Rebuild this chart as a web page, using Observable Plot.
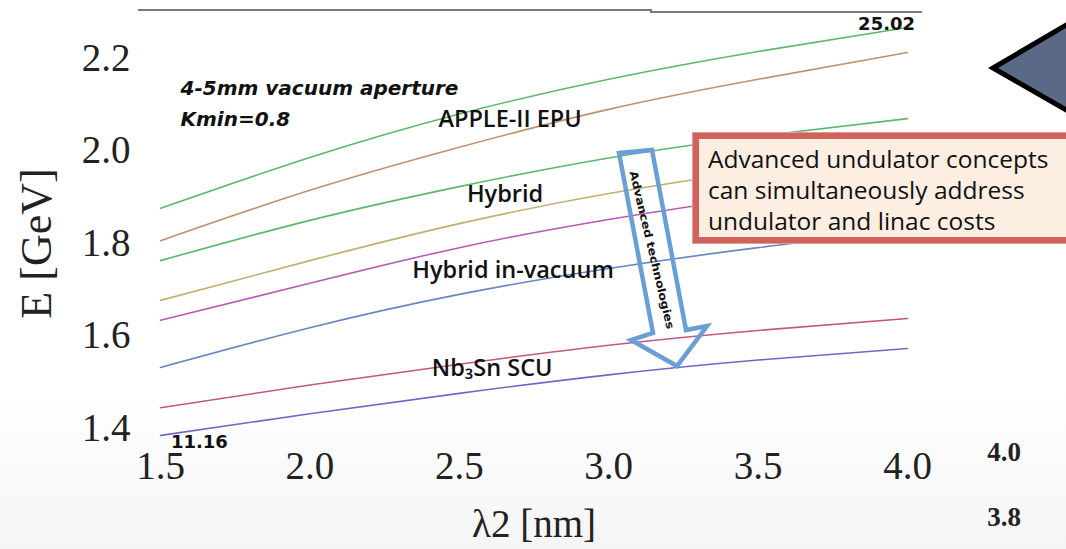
<!DOCTYPE html>
<html>
<head>
<meta charset="utf-8">
<script src="https://cdn.jsdelivr.net/npm/d3@7"></script>
<script src="https://cdn.jsdelivr.net/npm/@observablehq/plot@0.6"></script>
<style>
  html, body { margin: 0; padding: 0; background: #fff; }
  #stage {
    position: relative; width: 1066px; height: 549px; overflow: hidden;
    background: linear-gradient(to bottom, #ffffff 0px, #ffffff 390px, #f5f5f5 549px);
  }
  #stage > svg { position: absolute; left: 0; top: 0; }
  #note {
    position: absolute; left: 693px; top: 133px; width: 460px; height: 110px;
    box-sizing: border-box; border: 6px solid #d1625b; background: #fdeee2;
    box-shadow: 0 0 0 1px #e39a94;
    font-family: "Open Sans", sans-serif; font-size: 24.5px; line-height: 31px;
    color: #111; padding: 4px 0 0 9px; white-space: nowrap;
  }
</style>
</head>
<body>
<div id="stage"></div>
<script>
// Photon wavelength λ2 (nm) sampled for every curve
const lambda = [1.5, 2.0, 2.5, 3.0, 3.5, 4.0];

// Required electron energy E (GeV) for each undulator technology, two apertures each
const seriesNames = [
  "APPLE-II EPU, 5 mm", "APPLE-II EPU, 4 mm",
  "Hybrid, 5 mm", "Hybrid, 4 mm",
  "Hybrid in-vacuum, 5 mm", "Hybrid in-vacuum, 4 mm",
  "Nb3Sn SCU, 5 mm", "Nb3Sn SCU, 4 mm"
];
const appleEpu5 = [1.876, 1.986, 2.080, 2.155, 2.215, 2.267];
const appleEpu4 = [1.806, 1.915, 2.008, 2.090, 2.155, 2.213];
const hybrid5   = [1.763, 1.850, 1.923, 1.985, 2.032, 2.070];
const hybrid4   = [1.677, 1.763, 1.843, 1.908, 1.958, 1.997];
const hybridIv5 = [1.634, 1.714, 1.791, 1.852, 1.900, 1.936];
const hybridIv4 = [1.532, 1.618, 1.690, 1.746, 1.791, 1.828];
const scu5      = [1.445, 1.494, 1.539, 1.580, 1.612, 1.638];
const scu4      = [1.385, 1.432, 1.476, 1.516, 1.548, 1.573];

// Axis ticks
const xTicks = [1.5, 2.0, 2.5, 3.0, 3.5, 4.0];
const yTicks = [1.4, 1.6, 1.8, 2.0, 2.2];

// Curve labels and side notes
const techLabels = ["APPLE-II EPU", "Hybrid", "Hybrid in-vacuum", "Nb\u2083Sn SCU"];
const apertureNote = ["4-5mm vacuum aperture", "Kmin=0.8"];
const endValues = ["11.16", "25.02"];
const sideTicks = ["4.0", "3.8"];

const seriesValues = [appleEpu5, appleEpu4, hybrid5, hybrid4, hybridIv5, hybridIv4, scu5, scu4];
const rows = seriesNames.flatMap((name, s) =>
  lambda.map((l, i) => ({series: name, lambda: l, E: seriesValues[s][i]}))
);

const lineColors = ["#5cb96a", "#c4916b", "#5cb96a", "#c0af70", "#b65ab8", "#6a86c4", "#c2568b", "#7367c6"];

const sans = "'Open Sans', sans-serif";
const dejavu = "'DejaVu Sans', sans-serif";
const fmt = d3.format(".1f");
const techFont = {fontFamily: sans, fontWeight: 600, fontSize: 23.5, fill: "#111"};
const noteFont = {textAnchor: "start", fontFamily: dejavu, fontWeight: "bold", fontStyle: "italic", fontSize: 20, fill: "#111"};
const valueFont = {fontFamily: dejavu, fontWeight: "bold", fontSize: 18, fill: "#111"};

const chart = Plot.plot({
  width: 1066,
  height: 549,
  marginLeft: 160,
  marginRight: 159,
  marginTop: 58,
  marginBottom: 121,
  style: {background: "transparent", fontFamily: "'Liberation Serif', serif", overflow: "visible"},
  x: {domain: [1.5, 4.0]},
  y: {domain: [1.4, 2.2]},
  color: {domain: seriesNames, range: lineColors},
  marks: [
    Plot.axisX({ticks: xTicks, tickFormat: fmt, tickSize: 0, tickPadding: 23, fontSize: 39, fill: "#222", label: null}),
    Plot.axisY({ticks: yTicks, tickFormat: fmt, tickSize: 0, tickPadding: 30, fontSize: 39, fill: "#222", label: null}),
    Plot.text(["E [GeV]"], {frameAnchor: "left", textAnchor: "middle", dx: -124, rotate: -90, fontSize: 44, fill: "#222"}),
    Plot.text(["\u03bb2 [nm]"], {frameAnchor: "bottom", dy: 108, fontSize: 39, fill: "#222"}),
    Plot.line(rows, {x: "lambda", y: "E", z: "series", stroke: "series", curve: "natural", strokeWidth: 1.6}),
    // technology labels
    Plot.text([techLabels[0]], {x: 2.67, y: 2.068, ...techFont}),
    Plot.text([techLabels[1]], {x: 2.653, y: 1.906, ...techFont}),
    Plot.text([techLabels[2]], {x: 2.68, y: 1.742, ...techFont}),
    Plot.text([techLabels[3]], {x: 2.61, y: 1.53, ...techFont}),
    // aperture note
    Plot.text([apertureNote[0]], {x: 1.567, y: 2.135, ...noteFont}),
    Plot.text([apertureNote[1]], {x: 1.567, y: 2.068, ...noteFont}),
    // end values
    Plot.text([endValues[0]], {x: 1.63, y: 1.37, ...valueFont}),
    Plot.text([endValues[1]], {x: 3.93, y: 2.274, ...valueFont})
  ]
});

const stage = document.getElementById("stage");
stage.appendChild(chart);

// Call-out box
const note = document.createElement("div");
note.id = "note";
note.innerHTML = "Advanced undulator concepts<br>can simultaneously address<br>undulator and linac costs";
stage.appendChild(note);

// Decorations: top rule, hollow arrow, pointer triangle, side tick labels
const ns = "http://www.w3.org/2000/svg";
const deco = d3.select(stage).append(() => document.createElementNS(ns, "svg"))
  .attr("width", 1066).attr("height", 549).style("pointer-events", "none");

deco.append("path").attr("d", "M138,10H652M650,12H922")
  .attr("stroke", "#7a7a7a").attr("stroke-width", 2.2).attr("fill", "none");

deco.append("path")
  .attr("d", "M619,153L652,150L686,330L707,326L677,366L631,340L653,333Z")
  .attr("fill", "none").attr("stroke", "#6a9fd6").attr("stroke-width", 4.5).attr("stroke-linejoin", "miter");

deco.append("text").text("Advanced technologies")
  .attr("transform", "translate(652,250) rotate(76.6)")
  .attr("text-anchor", "middle").attr("dy", "0.35em")
  .attr("font-family", dejavu).attr("font-weight", "bold").attr("font-size", 11)
  .attr("textLength", 162).attr("lengthAdjust", "spacingAndGlyphs").attr("fill", "#111");

deco.append("path").attr("d", "M993,68L1080,17L1080,118Z")
  .attr("fill", "#5a6a86").attr("stroke", "#000").attr("stroke-width", 5).attr("stroke-linejoin", "miter");

deco.selectAll("text.side").data(sideTicks).join("text").attr("class", "side")
  .attr("x", 1004).attr("y", (d, i) => i === 0 ? 452 : 517).attr("dy", "0.35em")
  .attr("text-anchor", "middle").attr("font-family", "'Liberation Serif', serif")
  .attr("font-weight", "bold").attr("font-size", 27).attr("fill", "#222").text(d => d);
</script>
</body>
</html>
